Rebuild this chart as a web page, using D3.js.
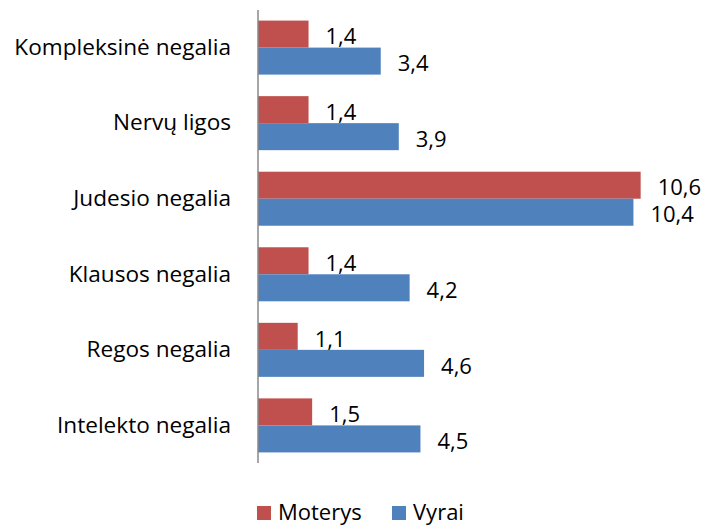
<!DOCTYPE html>
<html>
<head>
<meta charset="utf-8">
<script src="https://cdn.jsdelivr.net/npm/d3@7"></script>
<style>
  body { margin: 0; background: #fff; }
  text { font-family: "Open Sans", sans-serif; fill: #000; }
</style>
</head>
<body>
<div id="chart"></div>
<script>
// data, top to bottom
var categories = ["Kompleksinė negalia", "Nervų ligos", "Judesio negalia",
                  "Klausos negalia", "Regos negalia", "Intelekto negalia"];
var seriesNames = ["Moterys", "Vyrai"];
var moterys = [1.4, 1.4, 10.6, 1.4, 1.1, 1.5];
var vyrai = [3.4, 3.9, 10.4, 4.2, 4.6, 4.5];
var colors = ["#C0504D", "#4F81BD"];

var width = 706, height = 528;
var margin = {top: 10, left: 258, bottom: 65};

var svg = d3.select("#chart").append("svg")
    .attr("width", width)
    .attr("height", height)
    .style("display", "block");

var x = d3.scaleLinear()
    .domain([0, 12])
    .range([margin.left, margin.left + 12 * 36.1]);

var y = d3.scaleBand()
    .domain(categories)
    .range([margin.top, height - margin.bottom])
    .paddingInner(0.285)
    .paddingOuter(0.14);

var ySub = d3.scaleBand()
    .domain(seriesNames)
    .range([0, y.bandwidth()]);

var rows = categories.map(function(c, i) {
  return {cat: c, values: [
    {name: "Moterys", value: moterys[i]},
    {name: "Vyrai", value: vyrai[i]}
  ]};
});

var fmt = function(v) { return d3.format(".1f")(v).replace(".", ","); };

var group = svg.append("g")
  .selectAll("g")
  .data(rows)
  .enter().append("g")
    .attr("transform", function(d) { return "translate(0," + y(d.cat) + ")"; });

group.selectAll("rect")
  .data(function(d) { return d.values; })
  .enter().append("rect")
    .attr("x", x(0))
    .attr("y", function(d) { return ySub(d.name); })
    .attr("width", function(d) { return x(d.value) - x(0); })
    .attr("height", ySub.bandwidth())
    .style("fill", function(d, i) { return colors[i]; });

group.selectAll("text.val")
  .data(function(d) { return d.values; })
  .enter().append("text")
    .attr("class", "val")
    .attr("x", function(d) { return x(d.value) + 17; })
    .attr("y", function(d) { return ySub(d.name) + ySub.bandwidth() / 2 + 2.5; })
    .attr("dy", ".35em")
    .style("font-size", "22px")
    .text(function(d) { return fmt(d.value); });

// category axis (no ticks)
var yAxis = svg.append("g")
    .attr("transform", "translate(" + x(0) + ",0)")
    .call(d3.axisLeft(y).tickSize(0).tickPadding(27));
yAxis.select(".domain")
    .attr("d", "M0," + margin.top + "V" + (height - margin.bottom))
    .style("stroke", "#888")
    .style("stroke-width", 1.5);
yAxis.selectAll("text")
    .style("font-size", "22.6px")
    .style("font-family", "'Open Sans', sans-serif");

// legend (kept a few px up so the descenders stay inside the page)
var legendItems = [{name: "Moterys", x: 257}, {name: "Vyrai", x: 392}];
var legend = svg.append("g")
  .selectAll("g")
  .data(legendItems)
  .enter().append("g")
    .attr("transform", function(d) { return "translate(" + d.x + ",506)"; });
legend.append("rect")
    .attr("width", 14)
    .attr("height", 14)
    .style("fill", function(d, i) { return colors[i]; });
legend.append("text")
    .attr("x", 21)
    .attr("y", 14)
    .style("font-size", "22px")
    .text(function(d) { return d.name; });
</script>
</body>
</html>
